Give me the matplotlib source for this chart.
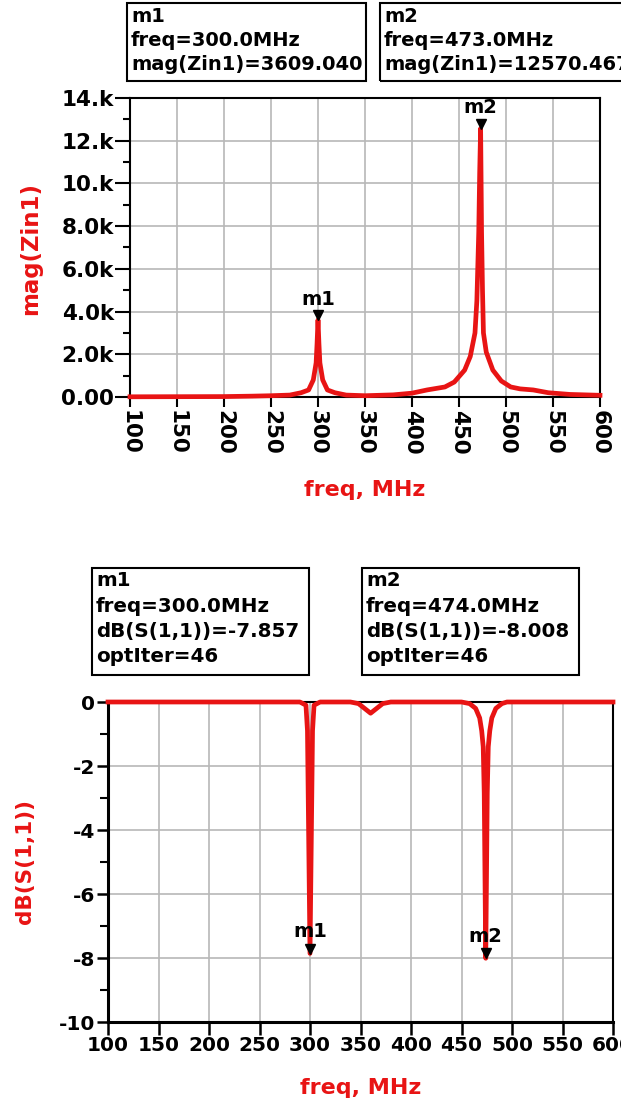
import matplotlib
matplotlib.use('Agg')
import matplotlib.pyplot as plt
from matplotlib.patches import Rectangle
from matplotlib.transforms import offset_copy

plt.rcParams['font.family'] = ['DejaVu Sans']
plt.rcParams['font.weight'] = 'bold'

RED = '#e81414'
GRID = '#b8b8b8'

# --- data ---
# top: mag(Zin1) vs freq (MHz)
zin_freq = [100, 150, 200, 230, 250, 270, 282, 290, 295, 298, 299, 300, 301, 302, 305,
            310, 318, 330, 350, 380, 400, 416, 435, 445, 456, 462, 467, 469, 471, 472,
            473, 474, 475, 476, 479, 486, 495, 505, 515, 529, 545, 568, 600]
zin_mag = [10, 15, 20, 40, 60, 90, 200, 330, 800, 1600, 2500, 3609, 2500, 1600, 800,
           330, 200, 90, 60, 100, 180, 330, 470, 700, 1260, 1900, 3000, 4500, 7700, 10500,
           12570, 7700, 5000, 3000, 2100, 1260, 750, 470, 380, 330, 200, 120, 80]

# bottom: dB(S(1,1)) vs freq (MHz)
s11_freq = [100, 290, 296, 297.5, 300, 302.5, 304, 310, 340, 348, 354, 360, 366, 372, 380,
            450, 458, 464, 468, 470, 471.5, 472.5, 474, 475.5, 476.5, 478, 480, 484, 490, 495, 600]
s11_db = [0, 0, -0.1, -0.9, -7.857, -0.9, -0.1, 0, 0, -0.05, -0.2, -0.35, -0.2, -0.05, 0,
          0, -0.05, -0.2, -0.5, -0.9, -1.4, -2.85, -8.008, -2.85, -1.4, -0.9, -0.5, -0.2, -0.05, 0, 0]

freq_ticks = [100, 150, 200, 250, 300, 350, 400, 450, 500, 550, 600]
zin_ticks = [0, 2000, 4000, 6000, 8000, 10000, 12000, 14000]
zin_tick_labels = ['0.00', '2.0k', '4.0k', '6.0k', '8.0k', '10.k', '12.k', '14.k']
db_ticks = [-10, -8, -6, -4, -2, 0]

top_markers = [('m1', 300, 3609.040), ('m2', 473, 12570.467)]
bot_markers = [('m1', 300, -7.857), ('m2', 474, -8.008)]
top_boxes = [['m1', 'freq=300.0MHz', 'mag(Zin1)=3609.040'],
             ['m2', 'freq=473.0MHz', 'mag(Zin1)=12570.467']]
bot_boxes = [['m1', 'freq=300.0MHz', 'dB(S(1,1))=-7.857', 'optIter=46'],
             ['m2', 'freq=474.0MHz', 'dB(S(1,1))=-8.008', 'optIter=46']]

W, H = 636, 1109
fig = plt.figure(figsize=(W / 100, H / 100), dpi=100)


def px_axes(l, t, r, b):
    return fig.add_axes([l / W, 1 - b / H, (r - l) / W, (b - t) / H])


def style(ax, lw):
    ax.grid(True, which='major', color=GRID, lw=1.2)
    ax.set_axisbelow(True)
    for s in ax.spines.values():
        s.set_linewidth(lw)


def markers(ax, items, dy):
    trans = offset_copy(ax.transData, fig=fig, y=3.5, units='points')
    for name, x, y in items:
        ax.plot(x, y, 'v', color='black', ms=7, transform=trans, clip_on=False, zorder=5)
        ax.annotate(name, (x, y), xytext=(0, dy), textcoords='offset points',
                    ha='center', va='center', fontsize=14, fontweight='bold', zorder=6)


def box(l, t, r, b, lines, ys, fs):
    fig.patches.append(Rectangle((l / W, 1 - b / H), (r - l) / W, (b - t) / H,
                                 transform=fig.transFigure, fill=False, ec='black', lw=1.5))
    for txt, y in zip(lines, ys):
        fig.text((l + 4) / W, 1 - y / H, txt, fontsize=fs, fontweight='bold',
                 ha='left', va='center')


# ---- top chart ----
ax1 = px_axes(130, 98, 600, 397)
ax1.plot(zin_freq, zin_mag, color=RED, lw=3.4, clip_on=False, zorder=3)
ax1.set_xlim(100, 600)
ax1.set_ylim(0, 14000)
ax1.set_xticks(freq_ticks)
ax1.set_xticklabels([str(v) for v in freq_ticks], rotation=270, fontsize=15.5)
ax1.set_yticks(zin_ticks)
ax1.set_yticklabels(zin_tick_labels, fontsize=15.5)
ax1.set_yticks(range(1000, 14000, 2000), minor=True)
ax1.tick_params(axis='y', which='major', length=11, width=1.5, pad=0.5)
ax1.tick_params(axis='y', which='minor', length=5, width=1.5)
ax1.tick_params(axis='x', which='major', length=7, width=1.5, pad=2)
style(ax1, 1.5)
ax1.set_ylabel('mag(Zin1)', color=RED, fontsize=16.5, fontweight='bold')
ax1.yaxis.set_label_coords(-0.187, 0.495)
ax1.set_xlabel('freq, MHz', color=RED, fontsize=16, fontweight='bold')
ax1.xaxis.set_label_coords(0.5, -0.31)
ax1.xaxis.label.set_va('center')
markers(ax1, top_markers, 15)

# ---- bottom chart ----
ax2 = px_axes(108, 702, 613, 1022)
ax2.plot(s11_freq, s11_db, color=RED, lw=3.4, clip_on=False, zorder=3)
ax2.set_xlim(100, 600)
ax2.set_ylim(-10, 0)
ax2.set_xticks(freq_ticks)
ax2.set_xticklabels([str(v) for v in freq_ticks], fontsize=14.5)
ax2.set_yticks(db_ticks)
ax2.set_yticklabels([str(v) for v in db_ticks], fontsize=14.5)
ax2.set_yticks([-9, -7, -5, -3, -1], minor=True)
ax2.tick_params(axis='y', which='major', length=8, width=1.8, pad=1)
ax2.tick_params(axis='y', which='minor', length=6, width=1.5)
ax2.tick_params(axis='x', which='major', length=9, width=1.8, pad=1)
style(ax2, 1.5)
ax2.spines['left'].set_linewidth(2.2)
ax2.spines['bottom'].set_linewidth(2.2)
ax2.set_ylabel('dB(S(1,1))', color=RED, fontsize=15.5, fontweight='bold')
ax2.yaxis.set_label_coords(-0.145, 0.5)
ax2.set_xlabel('freq, MHz', color=RED, fontsize=16, fontweight='bold')
ax2.xaxis.set_label_coords(0.5, -0.206)
ax2.xaxis.label.set_va('center')
markers(ax2, bot_markers, 16)

# ---- marker readout boxes ----
box(127, 3, 366, 81, top_boxes[0], [16, 41, 65], 14)
box(380, 3, 660, 81, top_boxes[1], [16, 41, 65], 14)
box(92, 568, 309, 675, bot_boxes[0], [580, 607, 632, 657], 14.3)
box(362, 568, 579, 675, bot_boxes[1], [580, 607, 632, 657], 14.3)

# the source picture is cut off a little before its right edge
fig.patches.append(Rectangle((621 / W, 0), 1, 1, transform=fig.transFigure,
                             fc='white', ec='none', zorder=100))

fig.savefig('out.png', dpi=100)
